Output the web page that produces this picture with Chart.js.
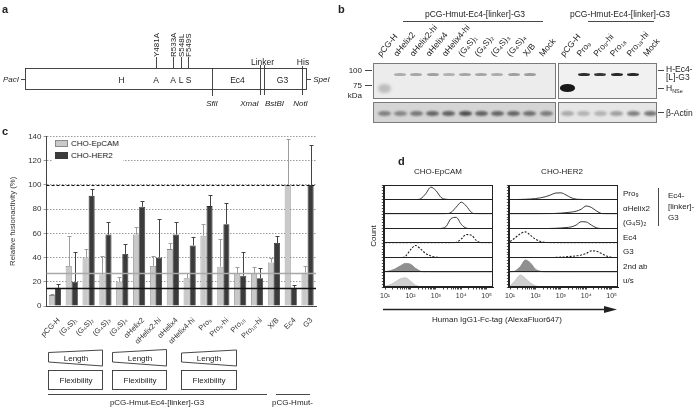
<!DOCTYPE html>
<html>
<head>
<meta charset="utf-8">
<script src="https://cdn.jsdelivr.net/npm/chart.js@4.4.1/dist/chart.umd.min.js"></script>
<style>
  body { margin:0; width:700px; height:410px; position:relative; overflow:hidden; background:#fff;
         font-family:'Liberation Sans', Arial, sans-serif; color:#222; filter:grayscale(1); }
  canvas, svg, .blot, .legend { position:absolute; }
  svg text { font-family:'Liberation Sans', Arial, sans-serif; fill:#222; }
  .blot { border:1px solid #7a7a7a; box-sizing:border-box; overflow:hidden; }
  .band { position:absolute; border-radius:50%; filter:blur(0.7px); }
  .legend { left:53px; top:137px; background:#fff; padding:1px 4px 1px 2px; font-size:8px; line-height:12px; }
  .legend .sw { display:inline-block; width:13px; height:7px; vertical-align:-1px; margin-right:3px; box-sizing:border-box; }
</style>
</head>
<body>
<svg id="art" width="700" height="410" style="left:0;top:0">
  <!-- panel a -->
  <text x="2" y="13" font-size="11" font-weight="bold">a</text>
  <rect x="25.5" y="68.5" width="281" height="21" fill="none" stroke="#333" stroke-width="0.9"/>
  <g stroke="#333" stroke-width="0.9">
    <line x1="212.5" y1="68" x2="212.5" y2="96"/>
    <line x1="260.5" y1="65" x2="260.5" y2="95"/>
    <line x1="264.5" y1="65" x2="264.5" y2="95"/>
    <line x1="302.5" y1="66" x2="302.5" y2="95"/>
    <line x1="156.5" y1="57" x2="156.5" y2="68"/>
    <line x1="173.5" y1="57" x2="173.5" y2="68"/>
    <line x1="181.5" y1="57" x2="181.5" y2="68"/>
    <line x1="188.5" y1="57" x2="188.5" y2="68"/>
    <line x1="21" y1="79.5" x2="25" y2="79.5"/>
    <line x1="307" y1="79.5" x2="311" y2="79.5"/>
  </g>
  <g font-size="8.5" text-anchor="middle">
    <text x="121.5" y="83">H</text>
    <text x="156" y="83">A</text>
    <text x="173" y="83">A</text>
    <text x="181" y="83">L</text>
    <text x="188.5" y="83">S</text>
    <text x="237.5" y="83">Ec4</text>
    <text x="282.5" y="83">G3</text>
    <text x="262.5" y="65">Linker</text>
    <text x="303" y="65">His</text>
  </g>
  <g font-size="8" font-style="italic" text-anchor="middle">
    <text x="11" y="82">PacI</text>
    <text x="321.5" y="82">SpeI</text>
    <text x="212" y="106">SfiI</text>
    <text x="249.5" y="106">XmaI</text>
    <text x="274.5" y="106">BstBI</text>
    <text x="300.5" y="106">NotI</text>
  </g>
  <g font-size="8">
    <text transform="translate(159.3,57) rotate(-90)">Y481A</text>
    <text transform="translate(176.3,57) rotate(-90)">R533A</text>
    <text transform="translate(184.3,57) rotate(-90)">S548L</text>
    <text transform="translate(191.3,57) rotate(-90)">F549S</text>
  </g>

  <!-- panel b -->
  <text x="338" y="13" font-size="11" font-weight="bold">b</text>
  <text x="475" y="17" font-size="8.5" text-anchor="middle">pCG-Hmut-Ec4-[linker]-G3</text>
  <line x1="403" y1="21.5" x2="543" y2="21.5" stroke="#333" stroke-width="0.9"/>
  <text x="620" y="17" font-size="8.5" text-anchor="middle">pCG-Hmut-Ec4-[linker]-G3</text>
  <line x1="588" y1="21.5" x2="654" y2="21.5" stroke="#333" stroke-width="0.9"/>
  <g font-size="8" text-anchor="end">
    <text x="362" y="73">100</text>
    <text x="362" y="88">75</text>
    <text x="362" y="98">kDa</text>
  </g>
  <g stroke="#333" stroke-width="0.9">
    <line x1="365" y1="70.5" x2="372" y2="70.5"/>
    <line x1="365" y1="85.5" x2="372" y2="85.5"/>
    <line x1="658" y1="70.5" x2="664" y2="70.5"/>
    <line x1="658" y1="88.5" x2="664" y2="88.5"/>
    <line x1="658" y1="112.5" x2="664" y2="112.5"/>
  </g>
  <g font-size="8.5">
    <text x="666" y="71.5">H-Ec4-</text>
    <text x="666" y="80">[L]-G3</text>
    <text x="666" y="91">H<tspan font-size="5.5" dy="1.5">NSe</tspan></text>
    <text x="666" y="115.5">β-Actin</text>
  </g>
  <g id="laneLabels" font-size="8.5"></g>

  <!-- panel c -->
  <text x="2" y="135" font-size="11" font-weight="bold">c</text>
  <g fill="none" stroke="#333" stroke-width="0.9">
    <polygon points="48.5,352.5 102.5,350 102.5,366 48.5,362"/>
    <rect x="48.5" y="370.5" width="54" height="19"/>
    <polygon points="112.5,352.5 166.5,349.5 166.5,366 112.5,362"/>
    <rect x="112.5" y="370.5" width="54" height="19"/>
    <polygon points="181.5,353 236.5,350 236.5,366 181.5,362"/>
    <rect x="181.5" y="370.5" width="55" height="19"/>
    <line x1="48" y1="394.5" x2="267" y2="394.5"/>
    <line x1="276" y1="394.5" x2="310" y2="394.5"/>
  </g>
  <g font-size="8" text-anchor="middle">
    <text x="76" y="361">Length</text>
    <text x="76" y="383">Flexibility</text>
    <text x="140" y="361">Length</text>
    <text x="140" y="383">Flexibility</text>
    <text x="209" y="361">Length</text>
    <text x="209" y="383">Flexibility</text>
    <text x="157" y="405">pCG-Hmut-Ec4-[linker]-G3</text>
  </g>
  <text x="272" y="405" font-size="8">pCG-Hmut-</text>

  <!-- panel d -->
  <text x="398" y="165" font-size="11" font-weight="bold">d</text>
  <g font-size="8" text-anchor="middle">
    <text x="438" y="174">CHO-EpCAM</text>
    <text x="562" y="174">CHO-HER2</text>
    <text transform="translate(375.5,236) rotate(-90)">Count</text>
    <text x="497" y="322">Human IgG1-Fc-tag (AlexaFluor647)</text>
  </g>
  <g id="rowLabels" font-size="8"></g>
  <line x1="658.5" y1="188" x2="658.5" y2="226" stroke="#333" stroke-width="0.9"/>
  <g font-size="8">
    <text x="668" y="198">Ec4-</text>
    <text x="668" y="209">[linker]-</text>
    <text x="668" y="220">G3</text>
  </g>
  <line x1="383" y1="309.5" x2="607" y2="309.5" stroke="#222" stroke-width="1.4"/>
  <polygon points="604,306 617,309.5 604,313" fill="#222"/>
</svg>

<canvas id="fusion" width="322" height="225" style="left:0;top:128px"></canvas>
<div class="legend">
  <div><span class="sw" style="background:#c9c9c9;border:1px solid #8a8a8a"></span>CHO-EpCAM</div>
  <div><span class="sw" style="background:#3b3b3b"></span>CHO-HER2</div>
</div>
<canvas id="flowEp" width="121" height="124" style="left:378px;top:182px"></canvas>
<canvas id="flowHer" width="121" height="124" style="left:503px;top:182px"></canvas>

<script>
// ---------- panel c: fusion activity ----------
var linkers = ['pCG-H', '(G₄S)₁', '(G₄S)₂', '(G₄S)₃', '(G₄S)₄', 'αHelix2', 'αHelix2-hi', 'αHelix4',
               'αHelix4-hi', 'Pro₉', 'Pro₉-hi', 'Pro₁₈', 'Pro₁₈-hi', 'X/B', 'Ec4', 'G3'];
var epcamFusion = [9, 33, 40, 26, 20, 59, 33, 47, 23, 58, 32.5, 27, 27, 36, 100, 27.5];
var epcamSd     = [1, 25, 7, 15, 4, 6, 8, 5, 4, 10, 22.5, 5, 5, 4, 38, 5.5];
var her2Fusion  = [15, 20, 91, 59, 43, 82, 40, 59, 50, 82.5, 67.5, 25, 23, 52, 15, 100];
var her2Sd      = [3, 25, 6, 10, 8, 5, 32, 10, 7, 9.5, 17.5, 20, 8, 6, 2, 33];
var fusionTicks = [0, 140, 10];          // min, max, step
var refLevels   = [100, 27.5, 15];       // normalised 100 %, EpCAM and HER2 background

// ---------- panel b: western blot band strengths (0..1) ----------
var blotLanesA  = ['pCG-H', 'αHelix2', 'αHelix2-hi', 'αHelix4', 'αHelix4-hi', '(G₄S)₁', '(G₄S)₂',
                   '(G₄S)₃', '(G₄S)₄', 'X/B', 'Mock'];
var fusionBandA = [0, 0.3, 0.32, 0.36, 0.28, 0.33, 0.33, 0.3, 0.36, 0.38, 0];
var hnseBandA   = [0.22, 0, 0, 0, 0, 0, 0, 0, 0, 0, 0];
var actinBandA  = [0.45, 0.42, 0.5, 0.6, 0.62, 0.72, 0.62, 0.6, 0.6, 0.55, 0.48];
var blotLanesB  = ['pCG-H', 'Pro₉', 'Pro₉-hi', 'Pro₁₈', 'Pro₁₈-hi', 'Mock'];
var fusionBandB = [0, 0.9, 0.85, 0.92, 0.92, 0];
var hnseBandB   = [1, 0, 0, 0, 0, 0];
var actinBandB  = [0.3, 0.25, 0.25, 0.35, 0.5, 0.55];

// ---------- panel d: flow cytometry histograms ----------
var flowDecades = [1.0, 1.2, 1.4, 1.6, 1.8, 2.0, 2.2, 2.4, 2.6, 2.8, 3.0,
                   3.2, 3.4, 3.6, 3.8, 4.0, 4.2, 4.4, 4.6, 4.8, 5.0, 5.2];
var flowRows = ['Pro₉', 'αHelix2', '(G₄S)₂', 'Ec4', 'G3', '2nd ab', 'u/s'];
var epPro9   = [0, 0, 0, 0, 0, 0, 0, 0.06, 0.4, 0.85, 0.62, 0.15, 0.02, 0, 0, 0, 0, 0, 0, 0, 0, 0];
var epHelix2 = [0, 0, 0, 0, 0, 0, 0, 0, 0, 0, 0, 0, 0.02, 0.12, 0.48, 0.82, 0.55, 0.12, 0.01, 0, 0, 0];
var epG4S2   = [0, 0, 0, 0, 0, 0, 0, 0, 0, 0, 0, 0.02, 0.15, 0.7, 0.78, 0.3, 0.04, 0, 0, 0, 0, 0];
var epEc4    = [0, 0, 0, 0, 0, 0, 0, 0, 0, 0, 0, 0, 0, 0.01, 0.06, 0.3, 0.6, 0.55, 0.18, 0.03, 0, 0];
var epG3     = [0, 0, 0, 0.01, 0.1, 0.55, 0.85, 0.6, 0.3, 0.13, 0.05, 0.02, 0, 0, 0, 0, 0, 0, 0, 0, 0, 0];
var ep2nd    = [0.05, 0.12, 0.25, 0.45, 0.62, 0.56, 0.28, 0.08, 0.02, 0, 0, 0, 0, 0, 0, 0, 0, 0, 0, 0, 0, 0];
var epUns    = [0.05, 0.15, 0.35, 0.56, 0.63, 0.4, 0.12, 0.02, 0, 0, 0, 0, 0, 0, 0, 0, 0, 0, 0, 0, 0, 0];
var herPro9   = [0, 0, 0.01, 0.02, 0.04, 0.07, 0.12, 0.2, 0.32, 0.45, 0.46, 0.32, 0.13, 0.03, 0.01, 0, 0, 0, 0, 0, 0, 0];
var herHelix2 = [0, 0, 0, 0, 0, 0, 0.01, 0.02, 0.03, 0.05, 0.07, 0.1, 0.14, 0.2, 0.34, 0.56, 0.46, 0.22, 0.04, 0, 0, 0];
var herG4S2   = [0, 0, 0, 0, 0, 0, 0, 0.01, 0.02, 0.03, 0.05, 0.08, 0.12, 0.25, 0.48, 0.46, 0.25, 0.06, 0.01, 0, 0, 0];
var herEc4    = [0.12, 0.38, 0.65, 0.78, 0.55, 0.28, 0.12, 0.06, 0.02, 0, 0, 0, 0, 0, 0, 0, 0, 0, 0, 0, 0, 0];
var herG3     = [0, 0, 0, 0, 0, 0, 0, 0.01, 0.02, 0.03, 0.05, 0.07, 0.1, 0.14, 0.2, 0.3, 0.48, 0.45, 0.3, 0.12, 0.04, 0.01];
var her2nd    = [0.02, 0.1, 0.4, 0.85, 0.65, 0.22, 0.08, 0.03, 0.01, 0, 0, 0, 0, 0, 0, 0, 0, 0, 0, 0, 0, 0];
var herUns    = [0.08, 0.45, 0.82, 0.6, 0.28, 0.08, 0.02, 0, 0, 0, 0, 0, 0, 0, 0, 0, 0, 0, 0, 0, 0, 0];

Chart.defaults.font.family = "'Liberation Sans', Arial, sans-serif";
Chart.defaults.color = '#333';

/**
 * Draws upward error bars on top of every bar.
 */
var errorBars = {
    id: 'errorBars',
    afterDatasetsDraw: function (chart) {
        var ctx = chart.ctx;
        var y = chart.scales.y;
        chart.data.datasets.forEach(function (ds, i) {
            var meta = chart.getDatasetMeta(i);
            ctx.save();
            ctx.strokeStyle = ds.errorColor;
            ctx.lineWidth = 1;
            meta.data.forEach(function (bar, j) {
                var top = Math.round(y.getPixelForValue(ds.data[j] + ds.errors[j])) + 0.5;
                var x = Math.round(bar.x) + 0.5;
                ctx.beginPath();
                ctx.moveTo(x, bar.y);
                ctx.lineTo(x, top);
                ctx.moveTo(x - 2, top);
                ctx.lineTo(x + 2, top);
                ctx.stroke();
            });
            ctx.restore();
        });
    }
};

/**
 * Horizontal reference lines (100 % dashed, background levels solid).
 */
var refLines = {
    id: 'refLines',
    afterDatasetsDraw: function (chart) {
        var ctx = chart.ctx, a = chart.chartArea, y = chart.scales.y;
        var styles = [
            {color: '#111', width: 1.2, dash: [3, 2]},
            {color: '#a8a8a8', width: 1.3, dash: []},
            {color: '#111', width: 1.3, dash: []}
        ];
        ctx.save();
        refLevels.forEach(function (v, i) {
            var py = Math.round(y.getPixelForValue(v)) + 0.5;
            ctx.strokeStyle = styles[i].color;
            ctx.lineWidth = styles[i].width;
            ctx.setLineDash(styles[i].dash);
            ctx.beginPath();
            ctx.moveTo(a.left, py);
            ctx.lineTo(a.right, py);
            ctx.stroke();
        });
        ctx.restore();
    }
};

new Chart(document.getElementById('fusion'), {
    type: 'bar',
    data: {
        labels: linkers,
        datasets: [{
            label: 'CHO-EpCAM',
            data: epcamFusion,
            errors: epcamSd,
            errorColor: '#9c9c9c',
            backgroundColor: '#c9c9c9',
            borderColor: '#8a8a8a',
            borderWidth: 0.8
        }, {
            label: 'CHO-HER2',
            data: her2Fusion,
            errors: her2Sd,
            errorColor: '#444',
            backgroundColor: '#3b3b3b',
            borderColor: '#2b2b2b',
            borderWidth: 0.8
        }]
    },
    options: {
        responsive: false,
        animation: false,
        categoryPercentage: 0.72,
        barPercentage: 1,
        layout: {padding: {left: 8, top: 8.5, right: 6, bottom: 0}},
        plugins: {legend: {display: false}, tooltip: {enabled: false}},
        scales: {
            x: {
                grid: {display: false},
                border: {color: '#444'},
                ticks: {maxRotation: 45, minRotation: 45, autoSkip: false, font: {size: 7.5}, color: '#333',
                        padding: 2, labelOffset: 4},
                afterFit: function (s) { s.height = 47; }
            },
            y: {
                min: fusionTicks[0],
                max: fusionTicks[1],
                ticks: {stepSize: fusionTicks[2], font: {size: 8}, color: '#333', padding: 2},
                grid: {color: '#9a9a9a', tickLength: 3},
                border: {color: '#444', dash: [1.5, 1.5]},
                title: {display: true, text: 'Relative fusionactivity (%)', font: {size: 7.8}, color: '#333', padding: 0},
                afterFit: function (s) { s.width = 38.5; }
            }
        }
    },
    plugins: [errorBars, refLines]
});

// ---------- panel d ----------
var rowStyle = ['solid', 'solid', 'solid', 'dashed', 'dashed', 'dark', 'light'];
var sup = ['⁰', '¹', '²', '³', '⁴', '⁵'];

/**
 * Draws the lines that separate the histogram rows and the frame.
 */
var rowLines = {
    id: 'rowLines',
    afterDatasetsDraw: function (chart) {
        var ctx = chart.ctx, a = chart.chartArea;
        ctx.save();
        ctx.strokeStyle = '#222';
        ctx.lineWidth = 1;
        Object.keys(chart.scales).forEach(function (k) {
            var s = chart.scales[k];
            if (s.axis === 'y') {
                var py = Math.round(s.bottom) - 0.5;
                ctx.beginPath();
                ctx.moveTo(a.left, py);
                ctx.lineTo(a.right, py);
                ctx.stroke();
            }
        });
        ctx.strokeRect(Math.round(a.left) + 0.5, Math.round(a.top) + 0.5, Math.round(a.width) - 1, Math.round(a.height) - 1);
        ctx.restore();
    }
};

function buildFlow(id, series) {
    var scales = {
        x: {
            type: 'linear',
            min: 0.95,
            max: 5.25,
            afterBuildTicks: function (s) {
                var t = [];
                for (var d = 1; d <= 5; d++) {
                    for (var k = 1; k <= 9; k++) {
                        var v = d + Math.log10(k);
                        if (v <= 5.25) t.push({value: v});
                    }
                }
                s.ticks = t;
            },
            ticks: {
                autoSkip: false, maxRotation: 0, font: {size: 7}, color: '#333', padding: 2,
                callback: function (v) { return Number.isInteger(v) ? '10' + sup[v] : ''; }
            },
            grid: {drawOnChartArea: false, tickLength: 2.5, color: '#444'},
            border: {color: '#222'},
            afterFit: function (s) { s.height = 19; }
        }
    };
    for (var r = flowRows.length - 1; r >= 0; r--) {
        scales['r' + r] = {
            type: 'linear', min: 0, max: 1, stack: 'rows', stackWeight: 1, position: 'left',
            ticks: {display: false, stepSize: 0.2},
            grid: {drawOnChartArea: false, tickLength: 2, color: '#555'},
            border: {color: '#222'},
            afterFit: function (s) { s.width = 2.5; }
        };
    }
    var datasets = series.map(function (vals, r) {
        var st = rowStyle[r];
        return {
            data: vals.map(function (v, j) { return {x: flowDecades[j], y: v}; }),
            yAxisID: 'r' + r,
            borderColor: st === 'light' ? '#c4c4c4' : (st === 'dark' ? '#8a8a8a' : '#222'),
            backgroundColor: st === 'light' ? '#cfcfcf' : '#8f8f8f',
            fill: (st === 'light' || st === 'dark') ? 'origin' : false,
            borderDash: st === 'dashed' ? [2, 1.5] : [],
            borderWidth: st === 'dashed' ? 1.1 : 0.9,
            pointRadius: 0,
            cubicInterpolationMode: 'monotone'
        };
    });
    new Chart(document.getElementById(id), {
        type: 'line',
        data: {datasets: datasets},
        options: {
            responsive: false,
            animation: false,
            layout: {padding: {left: 2.5, top: 3, right: 6, bottom: 0}},
            plugins: {legend: {display: false}, tooltip: {enabled: false}},
            scales: scales
        },
        plugins: [rowLines]
    });
}

buildFlow('flowEp', [epPro9, epHelix2, epG4S2, epEc4, epG3, ep2nd, epUns]);
buildFlow('flowHer', [herPro9, herHelix2, herG4S2, herEc4, herG3, her2nd, herUns]);

var svgNS = 'http://www.w3.org/2000/svg';
var rowG = document.getElementById('rowLabels');
flowRows.forEach(function (name, r) {
    var t = document.createElementNS(svgNS, 'text');
    t.setAttribute('x', 623);
    t.setAttribute('y', 196 + r * 14.5);
    t.textContent = name;
    rowG.appendChild(t);
});

// ---------- panel b ----------
function band(parent, left, top, x, y, w, h, alpha, blur) {
    if (!alpha) return;
    var d = document.createElement('div');
    d.className = 'band';
    d.style.left = (x - left - w / 2) + 'px';
    d.style.top = (y - top - h / 2) + 'px';
    d.style.width = w + 'px';
    d.style.height = h + 'px';
    d.style.background = 'rgba(25,25,25,' + alpha + ')';
    if (blur) d.style.filter = 'blur(' + blur + 'px)';
    parent.appendChild(d);
}

function drawBlot(left, width, first, step, lanes, fusion, hnse, actin, bgTop, bgActin) {
    var top = document.createElement('div');
    top.className = 'blot';
    top.style.cssText = 'left:' + left + 'px;top:63px;width:' + width + 'px;height:36px;background:' + bgTop;
    var bottom = document.createElement('div');
    bottom.className = 'blot';
    bottom.style.cssText = 'left:' + left + 'px;top:102px;width:' + width + 'px;height:21px;background:' + bgActin;
    document.body.appendChild(top);
    document.body.appendChild(bottom);
    var lg = document.getElementById('laneLabels');
    lanes.forEach(function (name, i) {
        var x = first + i * step;
        band(top, left, 63, x, 73.5, 12, 3.6, fusion[i], 0.6);
        band(top, left, 63, x, 87, hnse[i] > 0.5 ? 15 : 13, hnse[i] > 0.5 ? 7.5 : 9, hnse[i], hnse[i] > 0.5 ? 0.7 : 1.5);
        band(bottom, left, 102, x, 112.5, 13, 4.5, actin[i], 0.9);
        var t = document.createElementNS(svgNS, 'text');
        t.setAttribute('transform', 'translate(' + (x - 2) + ',57) rotate(-50)');
        t.textContent = name;
        lg.appendChild(t);
    });
}

drawBlot(373, 183, 383, 16.2, blotLanesA, fusionBandA, hnseBandA, actinBandA, '#ececec', '#d5d5d5');
drawBlot(558, 99, 566, 16.6, blotLanesB, fusionBandB, hnseBandB, actinBandB, '#f1f1f1', '#e6e6e6');
</script>
</body>
</html>
